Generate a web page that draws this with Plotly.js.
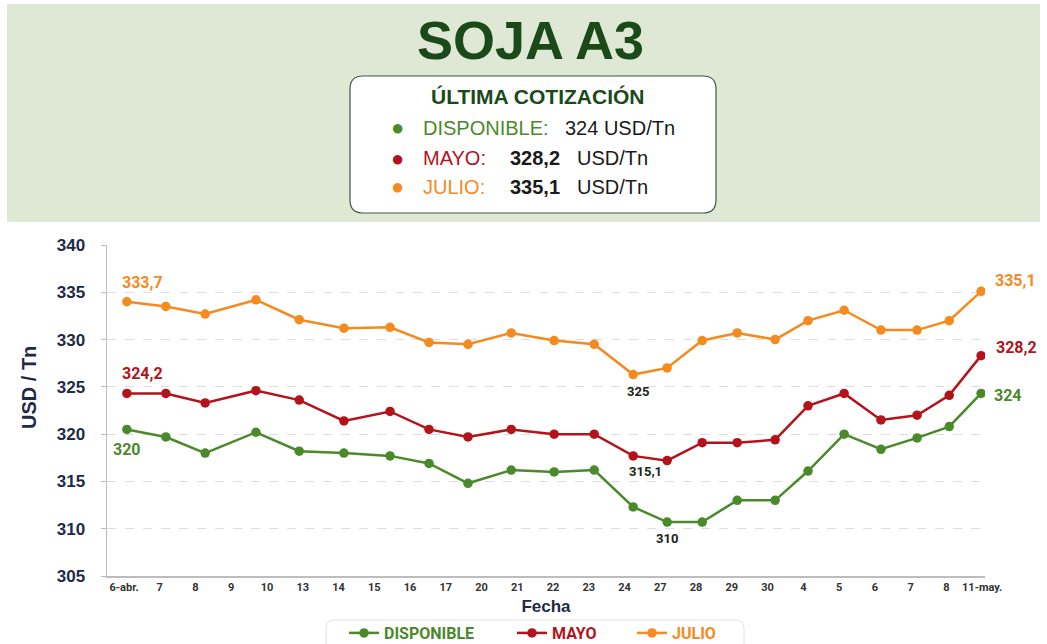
<!DOCTYPE html>
<html>
<head>
<meta charset="utf-8">
<script src="https://cdn.plot.ly/plotly-3.0.1.min.js"></script>
<style>html,body{margin:0;padding:0;background:#fff;}#chart{width:1047px;height:644px;}</style>
</head>
<body>
<div id="chart"></div>
<script>
// ---- data ----
const tickLabels = ['6-abr.','7','8','9','10','13','14','15','16','17','20','21','22','23','24','27','28','29','30','4','5','6','7','8','11-may.'];
const pointPos = [0.08,1.17,2.27,3.69,4.90,6.15,7.44,8.53,9.62,10.83,12.03,13.15,14.24,15.19,16.17,17.15,18.21,19.13,20.14,21.17,22.18,23.08,23.97];
const disponible = [320.5,319.7,318.0,320.2,318.2,318.0,317.7,316.9,314.8,316.2,316.0,316.2,312.3,310.7,310.7,313.0,313.0,316.1,320.0,318.4,319.6,320.8,324.3];
const mayo = [324.3,324.3,323.3,324.6,323.6,321.4,322.4,320.5,319.7,320.5,320.0,320.0,317.7,317.2,319.1,319.1,319.4,323.0,324.3,321.5,322.0,324.1,328.3];
const julio = [334.0,333.5,332.7,334.2,332.1,331.2,331.3,329.7,329.5,330.7,329.9,329.5,326.3,327.0,329.9,330.7,330.0,332.0,333.1,331.0,331.0,332.0,335.1];
const seriesNames = ['DISPONIBLE','MAYO','JULIO'];
const lastQuote = ['324','328,2','335,1'];
// point labels: [series index, point index, text]
const pointLabels = [
  [2,0,'333,7'],[1,0,'324,2'],[0,0,'320'],
  [2,12,'325'],[1,12,'315,1'],[0,13,'310'],
  [2,22,'335,1'],[1,22,'328,2'],[0,22,'324']
];

// ---- styles ----
const colors = ['#4a8a2b','#b3141c','#f58a1f'];
const FONT = 'Roboto, "Liberation Sans", Arial, sans-serif';
const FONT2 = '"Liberation Sans", Arial, sans-serif';
const L = 107, R = 985, T = 245, B = 576, W = 1047, H = 644;
const px = p => (p - L) / (R - L);
const py = p => (B - p) / (B - T);
const legendIds = ['legend', 'legend2', 'legend3'];
const legendX = [347, 515, 635];

const data = [disponible, mayo, julio];
const traces = data.map((vals, i) => ({
  type: 'scatter', mode: 'lines+markers',
  name: `<b><span style="color:${colors[i]}">${seriesNames[i]}</span></b>`,
  legend: legendIds[i],
  x: pointPos, y: vals,
  line: {color: colors[i], width: 2.5},
  marker: {color: colors[i], size: 9.5},
  hoverinfo: 'x+y'
}));

// label offsets (styling only)
const labelStyle = {
  '2-0': {xs:16, ys:19, c:colors[2], s:16},
  '1-0': {xs:16, ys:20, c:colors[1], s:16},
  '0-0': {xs:0, ys:-20, c:colors[0], s:16},
  '2-12': {xs:5, ys:-17, c:'#222', s:13},
  '1-12': {xs:12, ys:-16, c:'#222', s:13},
  '0-13': {xs:0, ys:-16, c:'#222', s:13},
  '2-22': {xs:34, ys:11, c:colors[2], s:16},
  '1-22': {xs:35, ys:8, c:colors[1], s:16},
  '0-22': {xs:27, ys:-2, c:colors[0], s:16}
};
const annotations = pointLabels.map(([si, pi, txt]) => {
  const st = labelStyle[si + '-' + pi];
  return {
    x: pointPos[pi], y: data[si][pi], xref: 'x', yref: 'y', text: '<b>' + txt + '</b>',
    showarrow: false, xshift: st.xs, yshift: st.ys,
    font: {family: FONT, size: st.s, color: st.c}
  };
});

// header title
annotations.push({
  xref: 'paper', yref: 'paper', x: px(530), y: py(40), text: '<b>SOJA A3</b>',
  showarrow: false, xanchor: 'center', yanchor: 'middle',
  font: {family: FONT2, size: 54, color: '#1a4a1a'}
});
annotations.push({
  xref: 'paper', yref: 'paper', x: px(537), y: py(97), text: '<b>ÚLTIMA COTIZACIÓN</b>',
  showarrow: false, xanchor: 'center', yanchor: 'middle',
  font: {family: FONT2, size: 21, color: '#1a4a1a'}
});
const rowY = [128, 158, 187];
const valueX = [563, 508, 508];
const unitX = [null, 575, 575];
seriesNames.forEach((n, i) => {
  annotations.push({xref:'paper', yref:'paper', x:px(397), y:py(rowY[i]), text:'●', showarrow:false,
    xanchor:'center', yanchor:'middle', font:{family:FONT2, size:22, color:colors[i]}});
  annotations.push({xref:'paper', yref:'paper', x:px(421), y:py(rowY[i]), text:n + ':', showarrow:false,
    xanchor:'left', yanchor:'middle', font:{family:FONT2, size:20, color:colors[i]}});
  if (i === 0) {
    annotations.push({xref:'paper', yref:'paper', x:px(valueX[i]), y:py(rowY[i]), text:lastQuote[i] + ' USD/Tn', showarrow:false,
      xanchor:'left', yanchor:'middle', font:{family:FONT2, size:20, color:'#1a1a1a'}});
  } else {
    annotations.push({xref:'paper', yref:'paper', x:px(valueX[i]), y:py(rowY[i]), text:'<b>' + lastQuote[i] + '</b>', showarrow:false,
      xanchor:'left', yanchor:'middle', font:{family:FONT2, size:20, color:'#1a1a1a'}});
    annotations.push({xref:'paper', yref:'paper', x:px(unitX[i]), y:py(rowY[i]), text:'USD/Tn', showarrow:false,
      xanchor:'left', yanchor:'middle', font:{family:FONT2, size:20, color:'#1a1a1a'}});
  }
});
// y axis title
annotations.push({
  xref:'paper', yref:'paper', x:px(29), y:py(388), text:'<b>USD / Tn</b>', textangle:-90,
  showarrow:false, xanchor:'center', yanchor:'middle', font:{family:FONT2, size:20, color:'#1f2a48'}
});

// rounded box path
function roundRect(x0, y0, x1, y1, r) {
  const X = p => px(p), Y = p => py(p);
  return `M ${X(x0+r)},${Y(y0)} L ${X(x1-r)},${Y(y0)} Q ${X(x1)},${Y(y0)} ${X(x1)},${Y(y0+r)} ` +
    `L ${X(x1)},${Y(y1-r)} Q ${X(x1)},${Y(y1)} ${X(x1-r)},${Y(y1)} L ${X(x0+r)},${Y(y1)} ` +
    `Q ${X(x0)},${Y(y1)} ${X(x0)},${Y(y1-r)} L ${X(x0)},${Y(y0+r)} Q ${X(x0)},${Y(y0)} ${X(x0+r)},${Y(y0)} Z`;
}

const shapes = [
  {type:'rect', xref:'paper', yref:'paper', x0:px(7), x1:px(1040), y0:py(222), y1:py(4),
   fillcolor:'#dfe8d4', line:{width:0}, layer:'below'},
  {type:'path', xref:'paper', yref:'paper', path: roundRect(350, 76, 716, 213, 13),
   fillcolor:'#ffffff', line:{color:'#3f5a3f', width:1.2}, layer:'below'},
  {type:'path', xref:'paper', yref:'paper', path: roundRect(326, 620, 744, 660, 9),
   fillcolor:'#ffffff', line:{color:'#e2e2e2', width:1}, layer:'below'}
];

const layout = {
  width: W, height: H,
  margin: {l: L, r: W - R, t: T, b: H - B, pad: 0},
  paper_bgcolor: '#ffffff', plot_bgcolor: '#ffffff',
  font: {family: FONT},
  showlegend: true,
  xaxis: {
    range: [-0.476, 24.08], tickmode: 'array', tickvals: tickLabels.map((_, i) => i), ticktext: tickLabels,
    tickfont: {family: FONT, size: 11, color: '#333', weight: 'bold'},
    showgrid: false, zeroline: false, showline: true, linecolor: '#bdbdbd', linewidth: 1.5,
    ticks: '', title: {text: '<b>Fecha</b>', font: {family: FONT2, size: 17, color: '#1f2a48'}, standoff: 9},
    automargin: false, fixedrange: true
  },
  yaxis: {
    range: [305, 340], tickvals: [305,310,315,320,325,330,335,340],
    tickfont: {family: FONT2, size: 17, color: '#1f2a48', weight: 'bold'},
    showgrid: true, gridcolor: '#dedede', griddash: 'dash', gridwidth: 1,
    zeroline: false, showline: true, linecolor: '#bdbdbd', linewidth: 1.5,
    ticks: 'outside', ticklen: 5, tickcolor: '#bdbdbd', ticklabelstandoff: 12,
    automargin: false, fixedrange: true
  },
  annotations: annotations,
  shapes: shapes
};
legendIds.forEach((id, i) => {
  layout[id] = {
    orientation: 'h', xref: 'container', yref: 'container', x: (legendX[i] - 3) / W, y: 1 - 633 / H,
    xanchor: 'left', yanchor: 'middle', bgcolor: 'rgba(0,0,0,0)', borderwidth: 0,
    font: {family: FONT, size: 16, color: '#333'}, itemwidth: 30
  };
});

Plotly.newPlot('chart', traces, layout, {displayModeBar: false, staticPlot: true});
</script>
</body>
</html>
